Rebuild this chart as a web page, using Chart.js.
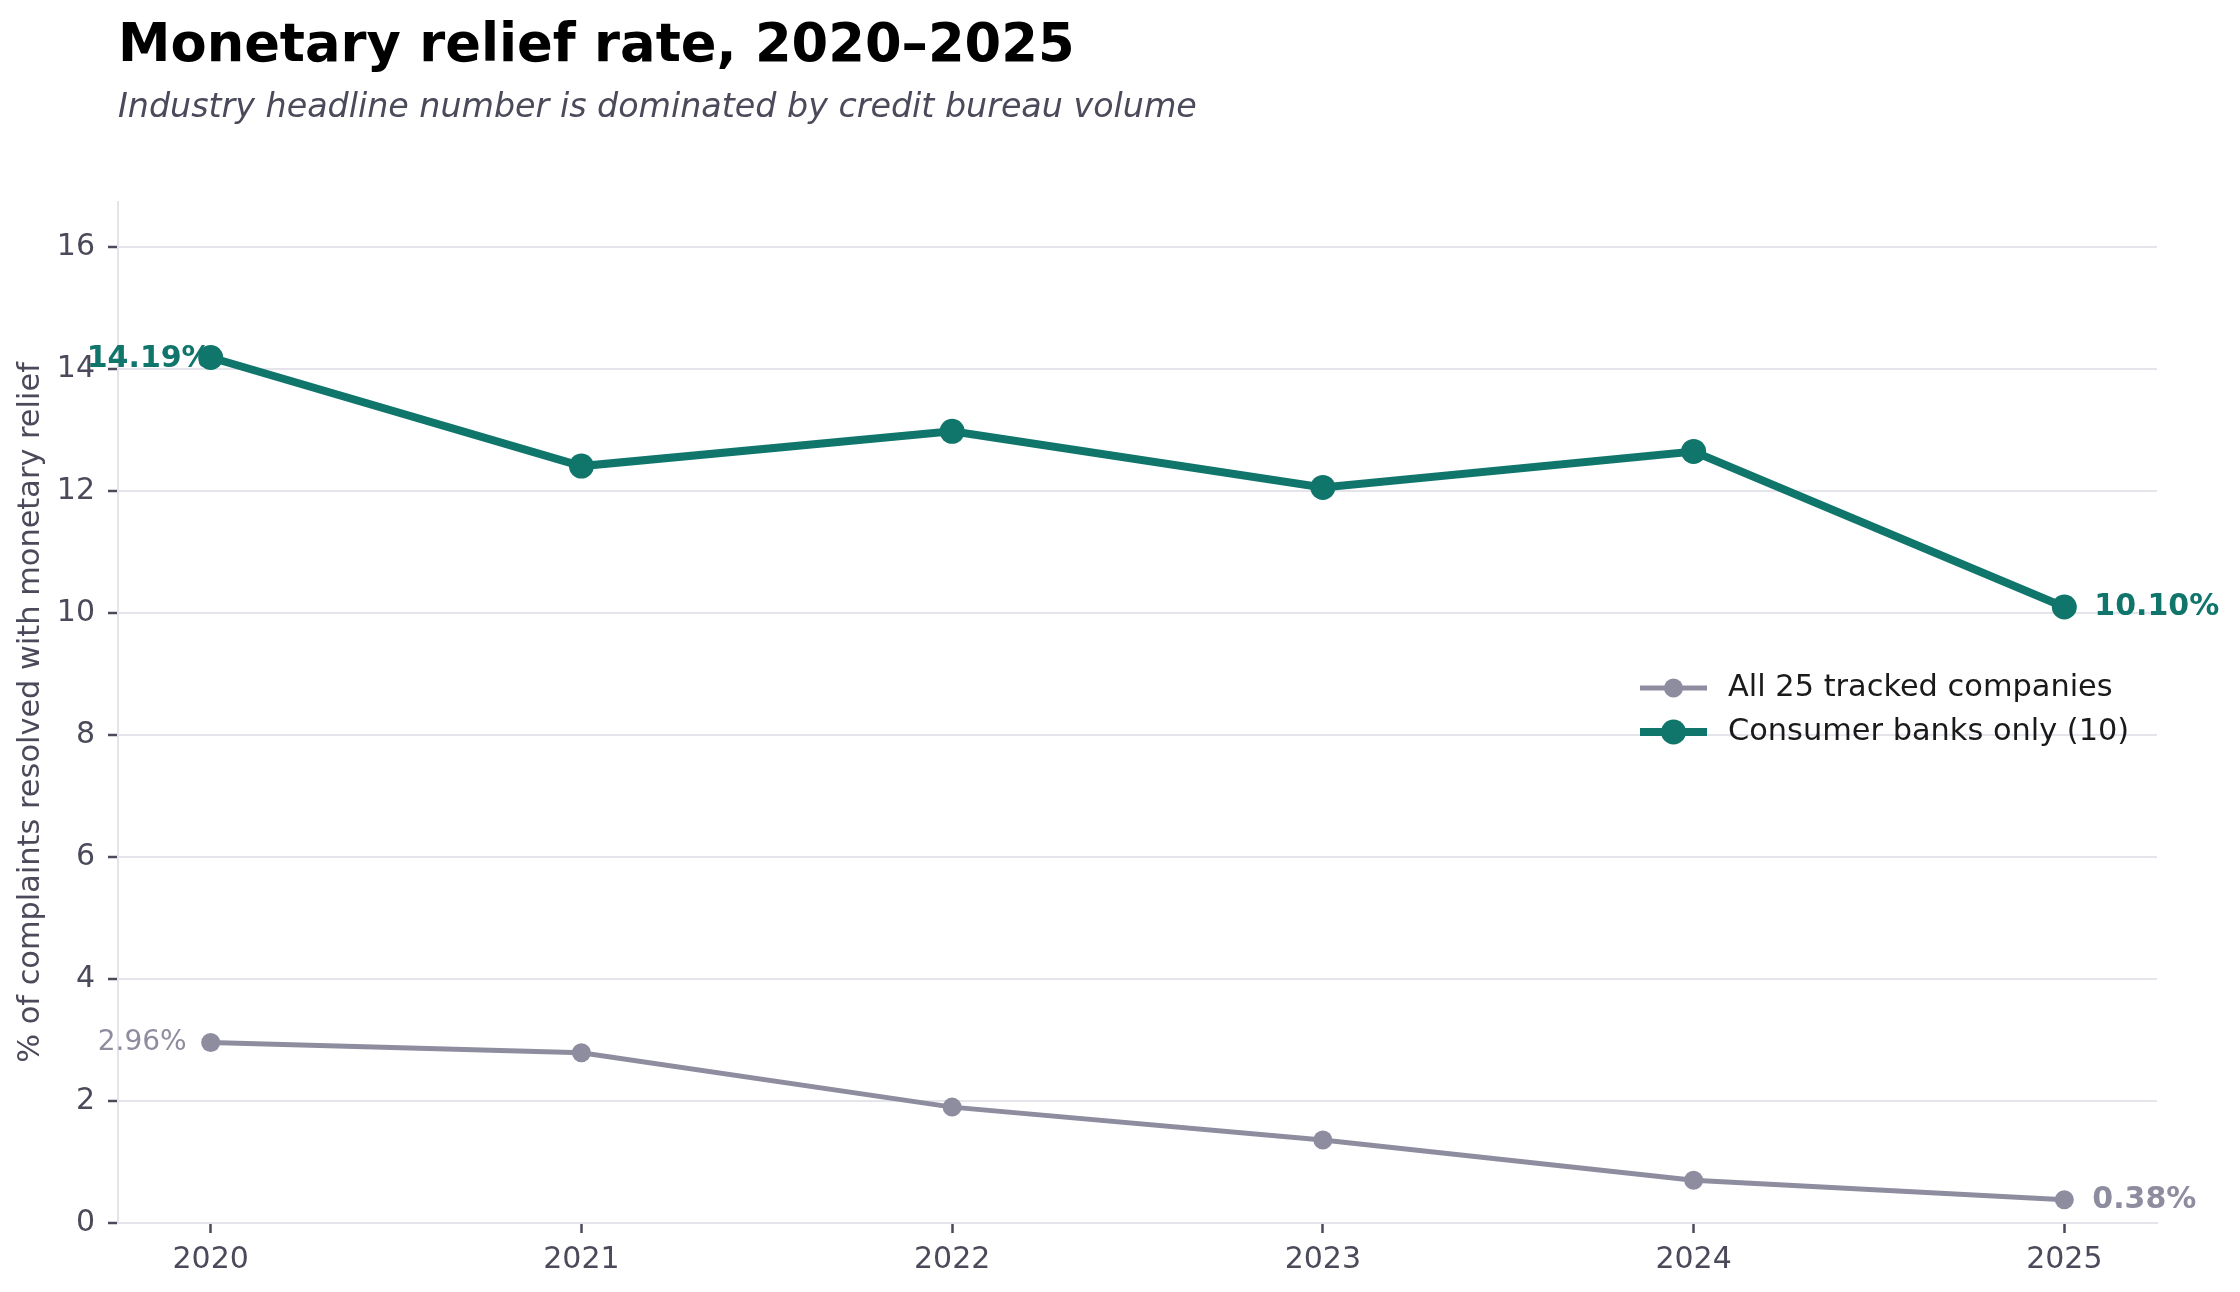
<!DOCTYPE html>
<html>
<head>
<meta charset="utf-8">
<script src="https://cdn.jsdelivr.net/npm/chart.js@4.4.1/dist/chart.umd.min.js"></script>
<style>
html,body{margin:0;padding:0;background:#fff;}
#wrap{position:relative;width:2240px;height:1292px;overflow:hidden;}
#title{position:absolute;left:118px;top:16px;font-family:'DejaVu Sans';font-weight:bold;font-size:52.7px;line-height:53px;color:#000;white-space:nowrap;}
#subtitle{position:absolute;left:118px;top:89px;font-family:'DejaVu Sans';font-style:italic;font-size:33.3px;line-height:33px;color:#4a4a5a;white-space:nowrap;}
canvas{position:absolute;left:0;top:0;}
</style>
</head>
<body>
<div id="wrap">
<canvas id="c" width="2240" height="1292" style="width:2240px;height:1292px"></canvas>
<div id="title">Monetary relief rate, 2020–2025</div>
<div id="subtitle">Industry headline number is dominated by credit bureau volume</div>
</div>
<script>
const years = [2020, 2021, 2022, 2023, 2024, 2025];
const allCompanies = [2.96, 2.79, 1.90, 1.36, 0.70, 0.38];
const consumerBanks = [14.19, 12.41, 12.98, 12.06, 12.65, 10.10];
const yTicks = [0, 2, 4, 6, 8, 10, 12, 14, 16];
const seriesLabels = ['All 25 tracked companies', 'Consumer banks only (10)'];
const yAxisTitle = '% of complaints resolved with monetary relief';

const TEAL = '#10766c', GRAY = '#8e8c9f', INK = '#4a4a5a', GRID = '#e4e4ea';
const FONT = "'DejaVu Sans'";
Chart.defaults.font.family = FONT;

const fmt = v => v.toFixed(2) + '%';

const annotPlugin = {
  id: 'annot',
  beforeDatasetsDraw(chart) {
    const ctx = chart.ctx, xs = chart.scales.x, ys = chart.scales.y;
    const n = years.length - 1;
    ctx.save();
    ctx.textBaseline = 'middle';
    ctx.fillStyle = GRAY;
    ctx.font = "28px " + FONT;
    ctx.textAlign = 'right';
    ctx.fillText(fmt(allCompanies[0]), xs.getPixelForValue(years[0]) - 24, ys.getPixelForValue(allCompanies[0]));
    ctx.font = "bold 30px " + FONT;
    ctx.textAlign = 'left';
    ctx.fillText(fmt(allCompanies[n]), xs.getPixelForValue(years[n]) + 28, ys.getPixelForValue(allCompanies[n]));
    ctx.fillStyle = TEAL;
    ctx.textAlign = 'right';
    ctx.fillText(fmt(consumerBanks[0]), xs.getPixelForValue(years[0]) + 1, ys.getPixelForValue(consumerBanks[0]) + 2);
    ctx.textAlign = 'left';
    ctx.fillText(fmt(consumerBanks[n]), xs.getPixelForValue(years[n]) + 30, ys.getPixelForValue(consumerBanks[n]));
    ctx.restore();
  },
  afterDraw(chart) {
    const ctx = chart.ctx;
    const rowsY = [688, 732];
    const x1 = 1640, x2 = 1707, tx = 1728;
    ctx.save();
    chart.data.datasets.forEach((ds, i) => {
      const y = rowsY[i];
      ctx.strokeStyle = ds.borderColor;
      ctx.lineWidth = ds.borderWidth;
      ctx.beginPath();
      ctx.moveTo(x1, y);
      ctx.lineTo(x2, y);
      ctx.stroke();
      ctx.fillStyle = ds.pointBackgroundColor;
      ctx.beginPath();
      ctx.arc((x1 + x2) / 2, y, ds.pointRadius, 0, Math.PI * 2);
      ctx.fill();
      ctx.fillStyle = '#1a1a1a';
      ctx.font = "30.4px " + FONT;
      ctx.textAlign = 'left';
      ctx.textBaseline = 'middle';
      ctx.fillText(ds.label, tx, y);
    });
    ctx.restore();
  }
};

new Chart(document.getElementById('c'), {
  type: 'line',
  data: {
    datasets: [
      {
        label: seriesLabels[0],
        data: years.map((x, i) => ({ x, y: allCompanies[i] })),
        borderColor: GRAY,
        backgroundColor: GRAY,
        pointBackgroundColor: GRAY,
        borderWidth: 5,
        pointRadius: 9.5,
        pointBorderWidth: 0,
        tension: 0
      },
      {
        label: seriesLabels[1],
        data: years.map((x, i) => ({ x, y: consumerBanks[i] })),
        borderColor: TEAL,
        backgroundColor: TEAL,
        pointBackgroundColor: TEAL,
        borderWidth: 8,
        pointRadius: 12.5,
        pointBorderWidth: 0,
        tension: 0
      }
    ]
  },
  options: {
    responsive: false,
    animation: false,
    devicePixelRatio: 1,
    layout: { padding: { top: 202, right: 83, left: 0, bottom: 0 } },
    plugins: { legend: { display: false }, tooltip: { enabled: false }, title: { display: false } },
    scales: {
      x: {
        type: 'linear',
        min: 2019.75,
        max: 2025.25,
        afterBuildTicks: s => { s.ticks = years.map(v => ({ value: v })); },
        afterFit: s => { s.height = 69; },
        grid: { drawOnChartArea: false, tickColor: INK, tickLength: 10, tickWidth: 2.5 },
        border: { color: GRID, width: 2 },
        ticks: { color: INK, font: { size: 30 }, padding: 9, maxRotation: 0, autoSkip: false, callback: v => String(v) }
      },
      y: {
        min: 0,
        max: 16.74,
        afterBuildTicks: s => { s.ticks = yTicks.map(v => ({ value: v })); },
        afterFit: s => { s.width = 118; },
        grid: { color: GRID, lineWidth: 2, tickColor: INK, tickLength: 10, tickWidth: 2.5 },
        border: { color: GRID, width: 2 },
        ticks: { color: INK, font: { size: 30 }, padding: 13, callback: v => String(v) },
        title: { display: true, text: yAxisTitle, color: INK, font: { size: 30.4 }, padding: { top: 13, bottom: 0 } }
      }
    }
  },
  plugins: [annotPlugin]
});
</script>
</body>
</html>
